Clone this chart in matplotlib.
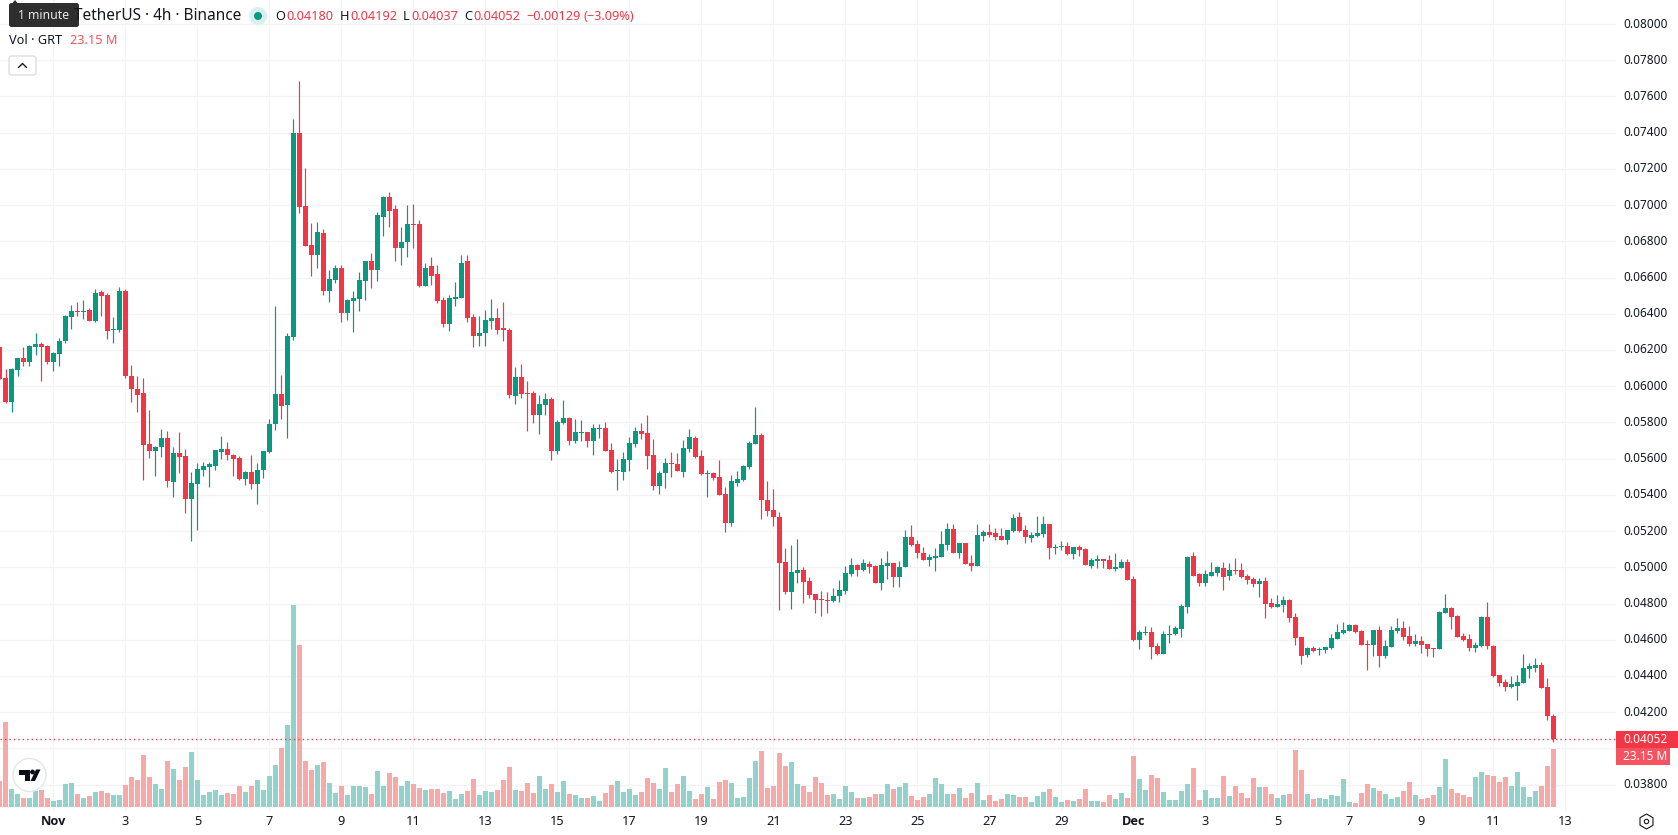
import numpy as np
import matplotlib
matplotlib.use("Agg")
import matplotlib.pyplot as plt
from matplotlib.patches import Circle, FancyBboxPatch, Polygon, Rectangle

plt.rcParams["font.family"] = ["Noto Sans", "DejaVu Sans"]

# GRT/USDT 4h candles, prices in thousandths of a dollar.
# Bar index 0 is 1 Nov 00:00; six bars make one day.
FIRST_BAR = -9
opens = [62.14,60.43,59.15,60.87,61.53,61.31,62.14,62.31,62.20,
 61.31,61.76,62.48,63.80,64.14,64.08,64.19,63.58,65.19,65.02,
 63.08,63.08,65.24,60.54,59.87,59.60,56.83,56.44,56.66,57.16,
 54.73,56.33,56.17,53.79,54.62,55.39,55.56,55.61,56.39,56.55,
 56.22,56.06,54.89,55.28,54.62,55.36,56.36,57.91,59.56,58.97,
 62.73,73.97,69.93,67.77,67.22,68.44,65.28,65.89,66.50,64.06,
 64.73,64.84,65.83,66.89,66.44,69.32,70.43,69.76,67.61,67.94,
 68.93,68.93,65.56,66.61,66.17,64.78,63.45,64.84,64.89,66.89,
 63.84,62.79,62.92,63.62,63.79,63.24,63.13,59.48,60.53,59.65,
 59.65,58.43,58.98,59.31,56.44,57.99,58.26,56.99,57.43,57.49,
 56.99,57.65,57.71,56.49,55.33,55.27,55.94,56.82,57.54,57.43,
 56.21,54.50,55.22,55.77,55.72,55.27,56.55,57.15,56.16,55.16,
 55.22,55.00,54.06,52.45,54.66,54.83,55.55,56.82,57.32,53.69,
 53.19,52.80,50.31,48.65,49.70,49.87,49.26,48.54,48.26,48.21,
 48.15,48.43,48.70,49.65,50.14,49.87,50.20,50.09,49.15,50.09,
 50.25,49.48,50.03,51.69,51.31,50.81,50.42,50.53,50.59,51.25,
 52.14,50.81,51.36,50.25,50.09,51.75,51.97,51.92,51.75,51.53,
 52.03,52.80,52.08,51.64,51.75,51.86,52.41,51.08,51.14,51.20,
 50.75,51.14,51.03,50.09,50.37,50.48,50.42,49.92,49.98,50.31,
 49.37,45.99,46.38,46.44,45.66,45.22,46.27,46.32,46.60,47.82,
 50.64,49.65,49.15,49.54,49.70,49.98,49.54,49.87,49.87,49.54,
 49.37,49.09,49.24,48.03,47.80,47.92,48.19,47.25,46.14,45.15,
 45.54,45.42,45.42,45.54,46.03,46.37,46.48,46.81,46.48,45.76,
 45.70,46.53,45.09,45.59,46.48,46.64,46.20,45.76,45.92,45.76,
 45.54,45.48,47.47,47.75,47.31,46.20,46.03,45.54,45.65,47.25,
 45.65,44.04,43.65,43.38,43.43,43.60,44.37,44.43,44.59,43.38,
 41.80]
highs = [62.14,60.93,60.98,61.53,62.14,62.25,62.92,62.42,62.25,
 61.87,62.64,63.92,64.47,64.63,64.75,64.30,65.35,65.30,65.13,
 63.80,65.46,65.35,61.15,60.59,60.43,58.71,56.72,57.61,57.55,
 56.66,57.49,56.55,55.28,55.78,55.83,55.83,56.50,57.27,56.94,
 56.28,56.17,55.34,56.22,55.78,56.41,58.18,64.45,60.63,62.96,
 74.73,76.85,72.03,68.99,69.04,68.66,66.44,66.72,66.72,64.84,
 65.23,66.28,66.89,67.33,69.60,70.48,70.70,69.99,68.77,69.99,
 70.04,69.15,66.78,67.11,66.72,64.95,65.06,65.78,67.22,67.22,
 64.01,63.90,64.23,64.84,64.34,64.63,63.24,61.08,61.25,60.31,
 59.76,59.54,59.65,59.42,58.15,59.26,58.32,58.21,58.15,57.49,
 57.93,57.93,58.04,56.88,55.99,56.38,57.21,57.76,57.99,58.43,
 57.10,55.33,56.05,56.38,56.32,57.04,57.65,57.27,56.49,55.38,
 55.27,55.94,54.44,55.11,55.33,55.66,56.99,58.87,57.40,54.79,
 54.30,53.08,51.08,51.25,51.58,50.03,49.48,48.54,48.70,48.65,
 48.87,49.31,50.09,50.53,50.20,50.48,50.37,50.14,50.53,50.92,
 50.25,50.37,52.08,52.36,51.53,51.14,50.75,51.08,52.03,52.47,
 52.41,51.36,51.36,50.70,52.41,52.08,52.41,52.19,52.19,52.08,
 52.97,53.08,52.36,51.97,52.86,52.86,52.41,51.31,51.47,51.42,
 51.14,51.25,51.08,50.53,50.70,50.48,50.70,50.81,50.48,50.48,
 49.54,46.55,46.77,46.71,45.83,46.49,46.82,46.77,47.99,50.64,
 50.86,49.70,49.87,50.31,50.09,50.31,50.25,50.53,50.25,49.65,
 49.48,49.42,49.46,48.30,48.47,48.41,48.25,47.47,46.14,45.59,
 45.65,45.59,45.59,46.31,46.86,46.97,46.86,46.86,46.53,45.98,
 46.53,46.75,45.98,46.75,47.20,47.03,46.75,46.31,46.20,45.76,
 45.54,47.58,48.52,47.80,47.36,46.37,46.31,45.87,47.31,48.08,
 45.70,44.04,43.82,43.99,44.04,45.20,44.70,44.98,44.76,43.87,
 41.92]
lows = [60.39,59.10,58.60,60.59,61.09,61.09,61.70,60.26,61.20,
 60.82,61.09,62.37,63.14,63.86,63.69,63.58,63.53,63.86,62.59,
 62.37,62.97,60.43,59.15,58.60,54.84,56.06,55.06,56.11,54.45,
 53.90,55.23,53.01,51.46,52.07,55.06,54.45,55.39,56.00,55.94,
 55.06,54.84,54.56,54.34,53.51,54.92,56.30,57.58,58.18,57.16,
 62.57,69.54,67.72,66.06,66.50,65.06,64.67,65.72,63.56,63.68,
 63.01,64.17,64.78,65.45,65.83,68.32,68.77,66.89,66.72,67.11,
 67.61,65.50,65.56,65.61,64.62,63.29,63.07,64.45,64.89,63.56,
 62.14,62.20,62.20,63.18,62.90,62.47,59.37,59.04,59.37,57.54,
 57.99,57.38,58.43,55.94,56.27,57.93,56.77,56.88,56.99,56.66,
 56.21,57.15,56.44,55.22,54.28,54.83,55.33,56.66,57.10,55.44,
 54.28,54.06,54.39,55.00,55.33,55.00,56.38,56.05,55.11,53.89,
 54.83,54.00,51.95,52.28,54.50,54.78,55.44,56.82,52.69,52.86,
 52.30,47.65,48.54,47.71,49.15,48.04,48.32,47.49,47.32,47.49,
 48.10,48.10,48.54,49.54,49.54,49.81,49.70,49.15,48.76,49.37,
 48.93,48.93,50.03,51.20,50.53,50.42,50.09,49.81,50.59,50.97,
 50.81,50.53,50.20,49.81,50.09,51.47,51.69,51.53,51.53,51.31,
 51.97,51.97,51.36,51.42,51.69,51.69,50.48,50.75,50.97,50.70,
 50.48,50.64,50.14,49.98,49.98,49.98,49.92,49.81,49.98,49.31,
 45.94,45.49,46.27,44.94,45.16,45.22,45.83,46.25,46.16,47.49,
 49.54,48.98,48.98,49.54,49.54,48.76,49.31,49.65,49.42,49.09,
 48.93,48.37,47.20,47.75,47.80,47.53,46.97,45.70,44.65,45.04,
 45.31,45.15,45.26,45.48,46.03,46.31,46.48,46.37,45.70,44.32,
 45.09,44.48,44.98,45.59,46.37,45.98,45.65,45.65,45.26,45.09,
 45.04,45.48,47.47,46.59,46.14,45.92,45.37,45.31,45.59,45.48,
 43.93,43.43,43.15,43.32,42.66,43.60,43.87,44.21,43.32,41.55,
 40.37]
closes = [60.39,59.15,60.93,61.53,61.31,62.20,62.31,62.14,61.31,
 61.81,62.48,63.86,64.14,64.08,64.14,63.58,65.13,64.97,63.03,
 63.14,65.24,60.54,59.82,59.54,56.78,56.44,56.66,57.16,54.78,
 56.33,56.11,53.79,54.67,55.45,55.61,55.72,56.50,56.55,56.22,
 56.00,54.89,55.28,54.62,55.39,56.41,57.91,59.56,58.92,62.79,
 73.97,69.87,67.72,67.22,68.49,65.28,65.94,66.50,64.06,64.78,
 64.89,65.89,66.89,66.44,69.43,70.43,69.65,67.61,67.99,68.93,
 68.88,65.56,66.55,66.11,64.73,63.45,64.89,64.95,66.83,63.79,
 62.79,62.96,63.67,63.79,63.12,63.08,59.54,60.53,59.59,59.59,
 58.43,59.04,59.31,56.44,58.04,58.26,56.99,57.49,57.49,56.99,
 57.71,57.71,56.44,55.27,55.38,55.99,56.88,57.54,57.38,56.16,
 54.50,55.22,55.77,55.72,55.33,56.60,57.21,56.10,55.16,55.22,
 54.94,54.00,52.45,54.78,54.89,55.61,56.88,57.32,53.69,53.13,
 52.80,50.25,48.65,49.76,49.87,49.20,48.48,48.21,48.21,48.15,
 48.43,48.76,49.70,50.14,49.87,50.25,50.03,49.15,50.14,50.25,
 49.48,50.03,51.69,51.25,50.81,50.42,50.59,50.64,51.31,52.14,
 50.81,51.36,50.20,50.09,51.80,51.97,51.80,51.69,51.53,52.08,
 52.75,52.03,51.69,51.80,51.92,52.41,51.08,51.14,51.20,50.75,
 51.14,50.97,50.14,50.42,50.48,50.37,49.92,50.03,50.31,49.31,
 45.99,46.44,46.44,45.61,45.22,46.32,46.32,46.66,47.87,50.59,
 49.54,49.15,49.65,49.76,50.03,49.48,49.87,49.81,49.48,49.31,
 49.09,49.26,47.97,47.80,47.97,48.19,47.20,46.09,45.09,45.54,
 45.37,45.48,45.59,46.09,46.42,46.53,46.81,46.42,45.70,45.70,
 46.53,45.09,45.65,46.53,46.64,46.14,45.76,45.92,45.70,45.48,
 45.48,47.53,47.75,47.25,46.14,45.98,45.54,45.70,47.25,45.65,
 43.99,43.60,43.38,43.54,43.65,44.43,44.54,44.59,43.32,41.77,
 40.52]
# Traded volume per bar, millions of GRT.
volumes = [10.4,34.1,7.2,5.2,3.6,3.6,6.4,6.8,3.6,
 2.4,2.8,9.2,9.6,5.2,3.6,4.4,6.0,6.4,5.6,
 4.8,4.8,8.8,12.0,10.8,20.9,12.0,9.2,7.2,18.5,
 15.3,10.8,16.1,22.1,10.8,4.8,6.0,6.8,4.8,5.6,
 5.2,8.4,6.0,8.4,10.8,6.8,12.4,16.9,23.7,32.9,
 81.1,65.0,18.5,14.9,16.9,18.1,9.6,5.6,8.4,4.8,
 8.4,8.4,8.0,5.2,14.5,8.4,13.6,12.0,8.4,10.4,
 9.2,7.6,6.8,7.2,7.2,5.6,6.4,3.2,5.2,6.4,
 11.2,4.8,6.4,6.0,6.8,10.8,16.1,6.8,6.4,9.6,
 5.6,12.4,7.2,9.2,6.0,10.4,5.2,4.8,3.6,3.6,
 4.4,2.4,5.6,8.8,10.4,6.0,7.2,4.8,6.0,11.6,
 9.6,7.2,15.7,6.0,9.2,12.4,6.4,3.2,5.2,8.0,
 3.2,10.0,10.8,9.6,3.6,4.0,11.6,18.5,22.5,7.6,
 8.4,21.7,16.5,18.1,9.2,8.4,6.0,12.0,9.6,4.8,
 5.2,3.2,8.4,6.0,3.6,3.6,4.0,5.2,5.2,9.2,
 7.2,8.0,9.6,4.4,2.8,4.0,5.2,11.6,9.2,5.2,
 5.2,7.6,3.6,5.6,9.6,2.8,4.8,2.4,3.2,5.2,
 4.8,4.0,4.0,2.0,4.4,6.0,7.2,4.0,2.0,2.8,
 2.4,3.2,7.2,2.4,2.4,2.0,4.8,3.2,5.6,3.6,
 20.5,11.2,6.8,12.8,11.6,6.0,2.8,2.8,6.3,9.1,
 15.5,2.7,6.7,3.5,3.5,12.3,4.3,8.3,5.5,3.5,
 11.5,7.9,7.9,5.1,3.5,4.7,5.1,22.7,14.7,5.1,
 3.1,3.5,3.1,4.7,4.3,11.1,1.9,1.5,5.5,9.1,
 7.5,6.3,5.1,3.1,3.9,6.3,9.9,4.7,3.1,3.5,
 4.7,7.9,19.1,7.1,5.5,4.7,3.9,11.9,13.9,12.7,
 12.3,9.9,11.9,8.3,13.9,7.9,3.9,6.3,8.3,16.3,
 23.15]

date_ticks = [0, 12, 24, 36, 48, 60, 72, 84, 96, 108, 120, 132, 144, 156, 168,
              180, 192, 204, 216, 228, 240, 252]
date_labels = ["Nov", "3", "5", "7", "9", "11", "13", "15", "17", "19", "21", "23",
               "25", "27", "29", "Dec", "3", "5", "7", "9", "11", "13"]
price_ticks = [0.038, 0.040, 0.042, 0.044, 0.046, 0.048, 0.050, 0.052, 0.054, 0.056, 0.058,
               0.060, 0.062, 0.064, 0.066, 0.068, 0.070, 0.072, 0.074, 0.076, 0.078, 0.080]
last_price = 0.04052
last_volume = 23.15

UP = "#089981"
DOWN = "#F23645"
UP_VOL = "#92D2CC"
DOWN_VOL = "#F7A9A7"
GRID = "#F2F3F5"
INK = "#131722"

W, H = 1678, 835
PANE_W, PANE_H = 1616, 811
BAR_PX = 6
ORIGIN_PX = 53.5

o = np.array(opens) / 1000
h = np.array(highs) / 1000
l = np.array(lows) / 1000
c = np.array(closes) / 1000
v = np.array(volumes)
x = np.arange(FIRST_BAR, FIRST_BAR + len(o))
rising = c >= o

fig = plt.figure(figsize=(W / 100, H / 100), dpi=100, facecolor="white")
pane_rect = [0, 1 - PANE_H / H, PANE_W / W, PANE_H / H]

# Volume sits behind the candles on its own scale.
ax_vol = fig.add_axes(pane_rect, zorder=1)
ax = fig.add_axes(pane_rect, zorder=2)
ax.patch.set_alpha(0)

x_lim = (-ORIGIN_PX / BAR_PX, (PANE_W - ORIGIN_PX) / BAR_PX)
PRICE_LO, PRICE_HI = 0.036544, 0.081325
VOL_LO, VOL_HI = -1.6, 324
ax.set_xlim(*x_lim)
ax.set_ylim(PRICE_LO, PRICE_HI)
ax_vol.set_xlim(*x_lim)
ax_vol.set_ylim(VOL_LO, VOL_HI)

for t in date_ticks:
    ax_vol.axvline(t, color=GRID, lw=0.9, zorder=0)
for p in price_ticks:
    ax_vol.axhline((p - PRICE_LO) / (PRICE_HI - PRICE_LO) * (VOL_HI - VOL_LO) + VOL_LO,
                   color=GRID, lw=1.0, zorder=0)

ax_vol.bar(x, v, width=5 / BAR_PX, color=np.where(rising, UP_VOL, DOWN_VOL), linewidth=0, zorder=2)

colors = np.where(rising, UP, DOWN)
ax.vlines(x, l, h, colors=colors, linewidth=0.85, zorder=2)
bottoms = np.minimum(o, c)
heights = np.maximum(np.abs(c - o), 0.00005)
ax.bar(x, heights, bottom=bottoms, width=5 / BAR_PX, color=colors, linewidth=0, zorder=3)
ax.axhline(last_price, color=DOWN, lw=1.0, ls=(0, (1, 2.2)), zorder=4)

for a in (ax, ax_vol):
    a.set_xticks([])
    a.set_yticks([])
    for s in a.spines.values():
        s.set_visible(False)

# Pixel-addressed overlay for the chart furniture and axis labels.
ui = fig.add_axes([0, 0, 1, 1], zorder=3)
ui.set_xlim(0, W)
ui.set_ylim(H, 0)
ui.axis("off")
ui.patch.set_alpha(0)


def bar_px(i):
    return ORIGIN_PX + BAR_PX * i


def price_px(p):
    return 24 + (0.080 - p) * 18110


# Month starts are set in a heavier face than the day numbers.
for t, lab in zip(date_ticks, date_labels):
    if lab in ("Nov", "Dec"):
        ui.text(bar_px(t), 821.5, lab, ha="center", va="center", fontsize=9.2, color=INK,
                family=["Open Sans", "DejaVu Sans"], fontweight="bold")
    else:
        ui.text(bar_px(t), 821.5, lab, ha="center", va="center", fontsize=9.2, color=INK)

# The last-price tag covers the 0.04000 level on the scale.
for p in price_ticks:
    if p != 0.040:
        ui.text(1623, price_px(p), f"{p:.5f}", ha="left", va="center", fontsize=8.5, color=INK)

# Last price and volume tags on the scale.
ui.add_patch(Rectangle((1616, 731), 62, 16.5, color=DOWN, lw=0))
ui.text(1623, 739.5, f"{last_price:.5f}", ha="left", va="center", fontsize=8.5, color="white")
ui.add_patch(Rectangle((1616, 747.5), 54, 17.5, color="#F7525F", lw=0))
ui.text(1623, 756.5, f"{last_volume:.2f} M", ha="left", va="center", fontsize=8.5, color="white")

# Symbol legend.
ui.text(241, 16.5, "TetherUS · 4h · Binance", ha="right", va="center", fontsize=11.1, color=INK)
ui.add_patch(Circle((258, 16), 9, color="#D9F0EC", lw=0))
ui.add_patch(Circle((258, 16), 4, color=UP, lw=0))
for xp, txt, col in [(275.5, "O", INK), (286, "0.04180", DOWN), (340, "H", INK), (350, "0.04192", DOWN),
                     (403, "L", INK), (411, "0.04037", DOWN), (464, "C", INK), (473, "0.04052", DOWN),
                     (526, "−0.00129", DOWN), (584, "(−3.09%)", DOWN)]:
    ui.text(xp, 16.5, txt, ha="left", va="center", fontsize=9.2, color=col)

ui.text(9, 41, "Vol · GRT", ha="left", va="center", fontsize=9.2, color=INK)
ui.text(70, 41, "23.15 M", ha="left", va="center", fontsize=9.2, color="#F7525F")

# Collapse button.
ui.add_patch(FancyBboxPatch((9, 56), 27, 19, boxstyle="round,pad=0,rounding_size=2.5",
                            fc="white", ec="#D8DBE2", lw=0.9))
ui.plot([18.5, 22.5, 26.5], [67.5, 63.5, 67.5], color=INK, lw=1.0, solid_capstyle="round")

# Tooltip over the legend.
ui.add_patch(Polygon([(10, 6), (15, 0), (20, 6)], fc="#2E2E2E", lw=0))
ui.add_patch(FancyBboxPatch((9, 3), 70, 24, boxstyle="round,pad=0,rounding_size=2.5",
                            fc="#2E2E2E", ec="none"))
ui.text(44, 15.5, "1 minute", ha="center", va="center", fontsize=8.8, color="#E8E8E8")

# Platform badge in the lower corner.
ui.add_patch(Circle((29.5, 775), 16.5, fc="white", ec="#E4E6EA", lw=1.0))
ui.add_patch(Polygon([(19, 769.5), (29.5, 769.5), (29.5, 781), (24.5, 781), (24.5, 774.5), (19, 774.5)],
                     fc="#0B0E14", lw=0))
ui.add_patch(Circle((32.5, 772), 2.4, fc="#0B0E14", lw=0))
ui.add_patch(Polygon([(36, 769.5), (40.5, 769.5), (35, 781), (30.5, 781)], fc="#0B0E14", lw=0))

# Settings icon in the axis corner.
ang = np.deg2rad(np.arange(0, 360, 60) + 30)
ui.add_patch(Polygon(np.c_[1646.5 + 7.5 * np.cos(ang), 821.5 + 7.5 * np.sin(ang)], fc="none", ec=INK, lw=0.8))
ui.add_patch(Circle((1646.5, 821.5), 2.2, fc="none", ec=INK, lw=0.8))

fig.savefig("out.png", dpi=100, facecolor="white")
